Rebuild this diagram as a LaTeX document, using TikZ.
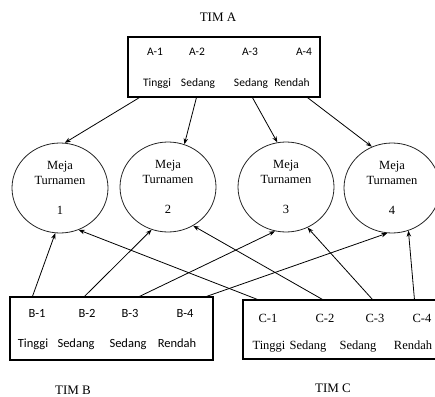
\documentclass[tikz,border=0pt]{standalone}
\usepackage{fontspec}
\setmainfont{Liberation Serif}
\newfontfamily\calib{Carlito}
\usetikzlibrary{arrows.meta, positioning, shapes.geometric}
\tikzset{
  team/.style={rectangle, draw=black, line width=1.1pt, inner sep=0pt},
  meja/.style={ellipse, draw=black!85, line width=0.8pt, minimum width=96pt, minimum height=90pt, inner sep=0pt, align=center, font=\fontsize{12.5}{15}\selectfont},
  sanslbl/.style={inner sep=0pt, anchor=base, font=\calib\fontsize{11.5}{13}\selectfont},
  bigsans/.style={sanslbl, font=\calib\fontsize{12.5}{14}\selectfont},
  seriflbl/.style={inner sep=0pt, anchor=base, font=\fontsize{12.5}{14}\selectfont},
  title/.style={inner sep=0pt, font=\fontsize{13}{15}\selectfont},
  arrow/.style={-{Stealth[length=6pt, width=4.5pt]}, line width=0.8pt, draw=black}
}
\begin{document}
\begin{tikzpicture}[x=1pt, y=-1pt]
  \useasboundingbox (0,0) rectangle (435,396);

  % tim A
  \node[title] (timA) at (218,17) {TIM A};
  \node[team, minimum width=192pt, minimum height=60pt] (boxA) at (224,67) {};
  \node[sanslbl] (ka1) at (155,56) {A-1};
  \node[sanslbl] (ka2) at (197,56) {A-2};
  \node[sanslbl] (ka3) at (250,56) {A-3};
  \node[sanslbl] (ka4) at (304,56) {A-4};
  \node[sanslbl] (la1) at (157,86) {Tinggi};
  \node[sanslbl] (la2) at (198,86) {Sedang};
  \node[sanslbl] (la3) at (251,86) {Sedang};
  \node[sanslbl] (la4) at (292,86) {Rendah};

  % meja turnamen
  \node[meja] (m1) at (60,188) {Meja\\Turnamen\\[15pt]1};
  \node[meja] (m2) at (168,187) {Meja\\Turnamen\\[15pt]2};
  \node[meja] (m3) at (286,187) {Meja\\Turnamen\\[15pt]3};
  \node[meja] (m4) at (392,188) {Meja\\Turnamen\\[15pt]4};

  % tim B
  \node[team, minimum width=203pt, minimum height=63pt] (boxB) at (111.5,328.5) {};
  \node[bigsans] (kb1) at (37,317) {B-1};
  \node[bigsans] (kb2) at (87,317) {B-2};
  \node[bigsans] (kb3) at (130,317) {B-3};
  \node[bigsans] (kb4) at (185,317) {B-4};
  \node[bigsans] (lb1) at (33,347) {Tinggi};
  \node[bigsans] (lb2) at (76,347) {Sedang};
  \node[bigsans] (lb3) at (128,347) {Sedang};
  \node[bigsans] (lb4) at (177,347) {Rendah};
  \node[title] (timB) at (73,390) {TIM B};

  % tim C
  \node[team, minimum width=194pt, minimum height=59pt] (boxC) at (340,329.5) {};
  \node[seriflbl] (kc1) at (268,322) {C-1};
  \node[seriflbl] (kc2) at (325,322) {C-2};
  \node[seriflbl] (kc3) at (375,322) {C-3};
  \node[seriflbl] (kc4) at (422,322) {C-4};
  \node[seriflbl] (lc1) at (269,349) {Tinggi};
  \node[seriflbl] (lc2) at (308,349) {Sedang};
  \node[seriflbl] (lc3) at (358,349) {Sedang};
  \node[seriflbl] (lc4) at (413,349) {Rendah};
  \node[title] (timC) at (333,388) {TIM C};

  % A ke meja
  \draw[arrow] ([xshift=12pt]boxA.south west) -- (m1.84);
  \draw[arrow] ([xshift=69pt]boxA.south west) -- (m2.69);
  \draw[arrow] ([xshift=125pt]boxA.south west) -- (m3.101);
  \draw[arrow] ([xshift=180pt]boxA.south west) -- (m4.116);

  % B ke meja
  \draw[arrow] ([xshift=23pt]boxB.north west) -- (m1.264);
  \draw[arrow] ([xshift=75pt]boxB.north west) -- (m2.249);
  \draw[arrow] ([xshift=130pt]boxB.north west) -- (m3.256);
  \draw[arrow] ([xshift=197pt]boxB.north west) -- (m4.264);

  % C ke meja
  \draw[arrow] ([xshift=15pt]boxC.north west) -- (m1.294);
  \draw[arrow] ([xshift=80pt]boxC.north west) -- (m2.303);
  \draw[arrow] ([xshift=130pt]boxC.north west) -- (m3.298);
  \draw[arrow] ([xshift=172pt]boxC.north west) -- (m4.291);
\end{tikzpicture}
\end{document}
